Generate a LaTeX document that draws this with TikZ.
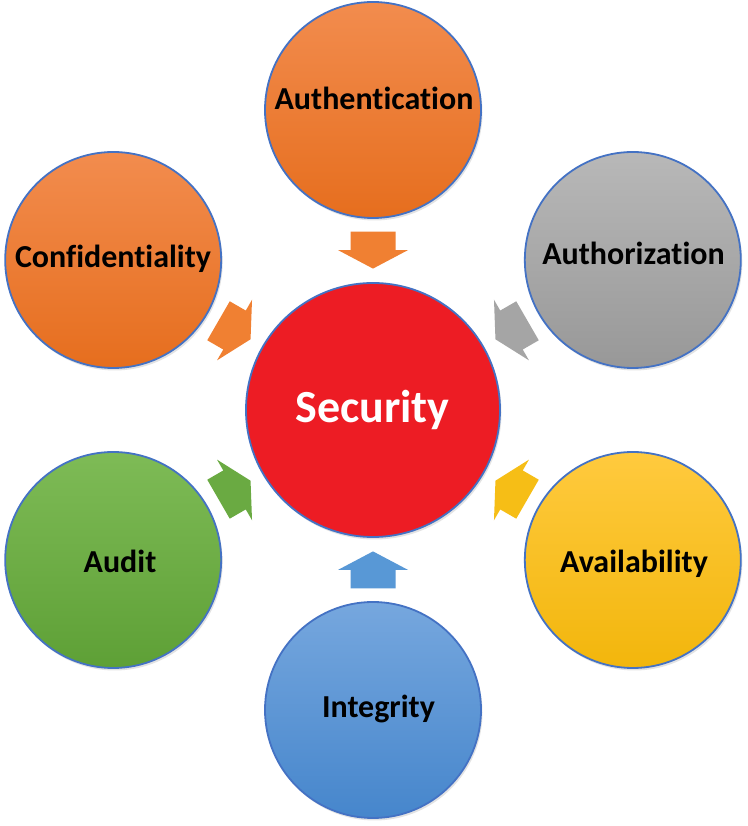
\documentclass[tikz,border=0pt]{standalone}
\usepackage{fontspec}
\setmainfont[Ligatures=NoCommon]{Carlito}
\usetikzlibrary{calc,shadows}
\definecolor{ringblue}{HTML}{4472C4}
\definecolor{orT}{RGB}{242,140,78}
\definecolor{orB}{RGB}{230,110,30}
\definecolor{grT}{RGB}{184,184,184}
\definecolor{grB}{RGB}{152,152,152}
\definecolor{secred}{RGB}{237,28,36}
\definecolor{yeT}{RGB}{255,202,62}
\definecolor{yeB}{RGB}{242,182,12}
\definecolor{gnT}{RGB}{126,187,86}
\definecolor{gnB}{RGB}{94,160,54}
\definecolor{blT}{RGB}{118,167,222}
\definecolor{blB}{RGB}{70,134,204}
\definecolor{arOr}{RGB}{240,128,50}
\definecolor{arGr}{RGB}{165,165,165}
\definecolor{arYe}{RGB}{246,190,22}
\definecolor{arGn}{RGB}{106,170,66}
\definecolor{arBl}{RGB}{88,152,214}
\tikzset{
  x=1pt,y=1pt,
  outer/.style={circle,draw=ringblue,line width=1.8pt,minimum size=216pt,inner sep=0pt,
    drop shadow={opacity=0.22,shadow xshift=1.5pt,shadow yshift=-2.5pt}},
  core/.style={circle,draw=ringblue,line width=1.8pt,minimum size=254pt,inner sep=0pt,fill=secred,
    drop shadow={opacity=0.22,shadow xshift=1.5pt,shadow yshift=-2.5pt}},
  lbl/.style={font=\fontsize{32}{36}\selectfont\bfseries,text=black,inner sep=0pt,anchor=base},
  seclbl/.style={font=\fontsize{46}{50}\selectfont\bfseries,text=white,inner sep=0pt,anchor=base},
  blockarrow/.pic={\path[pic actions] (-18.5,-22.5) -- (0,-22.5) -- (0,-35) -- (18.5,0) -- (0,35) -- (0,22.5) -- (-18.5,22.5) -- cycle;}
}
\begin{document}
\begin{tikzpicture}
\useasboundingbox (0,0) rectangle (747,826);
\fill[white] (0,0) rectangle (747,826);
\coordinate (c) at (373,416);
\node[core] (sec) at (c) {};
\node[outer,top color=orT,bottom color=orB] (auth) at ($(c)+(90:300)$) {};
\node[outer,top color=orT,bottom color=orB] (conf) at ($(c)+(150:300)$) {};
\node[outer,top color=grT,bottom color=grB] (authz) at ($(c)+(30:300)$) {};
\node[outer,top color=gnT,bottom color=gnB] (audit) at ($(c)+(210:300)$) {};
\node[outer,top color=yeT,bottom color=yeB] (avail) at ($(c)+(-30:300)$) {};
\node[outer,top color=blT,bottom color=blB] (integ) at ($(c)+(-90:300)$) {};
\node[seclbl] (tsec) at (372.5,403) {Security};
\node[lbl] (tauth) at (374,716) {Authentication};
\node[lbl] (tconf) at (113,558) {Confidentiality};
\node[lbl] (tauthz) at (633.5,561) {Authorization};
\node[lbl] (taudit) at (120,253) {Audit};
\node[lbl] (tavail) at (634,253) {Availability};
\node[lbl] (tinteg) at (378.5,108) {Integrity};
\pic[rotate=-90,fill=arOr] at ($(sec.center)!0.533!(auth.center)$) {blockarrow};
\pic[rotate=-30,fill=arOr] at ($(sec.center)!0.533!(conf.center)$) {blockarrow};
\pic[rotate=210,fill=arGr] at ($(sec.center)!0.533!(authz.center)$) {blockarrow};
\pic[rotate=30,fill=arGn] at ($(sec.center)!0.533!(audit.center)$) {blockarrow};
\pic[rotate=150,fill=arYe] at ($(sec.center)!0.533!(avail.center)$) {blockarrow};
\pic[rotate=90,fill=arBl] at ($(sec.center)!0.533!(integ.center)$) {blockarrow};
\end{tikzpicture}
\end{document}
